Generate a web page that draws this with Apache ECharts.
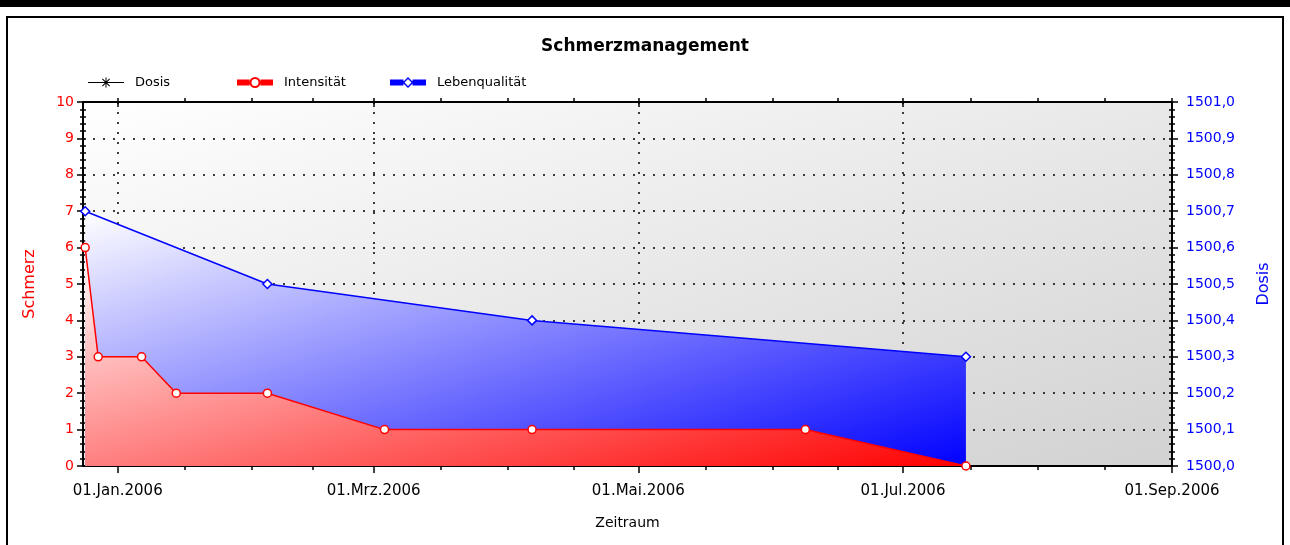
<!DOCTYPE html>
<html>
<head>
<meta charset="utf-8">
<script src="https://cdn.jsdelivr.net/npm/echarts@6/dist/echarts.min.js"></script>
<style>
html,body{margin:0;padding:0;background:#fff;}
#chart{width:1290px;height:545px;}
</style>
</head>
<body>
<div id="chart"></div>
<script>
// ---- data ----
const intensitaetDates = ['2005-12-24 12:00','2005-12-27 12:00','2006-01-06 12:00','2006-01-14 12:00','2006-02-04 12:00','2006-03-03 12:00','2006-04-06 12:00','2006-06-08 12:00','2006-07-15 12:00'];
const intensitaet = [6, 3, 3, 2, 2, 1, 1, 1, 0];
const lebenDates = ['2005-12-24 12:00','2006-02-04 12:00','2006-04-06 12:00','2006-07-15 12:00'];
const lebenqualitaet = [7, 5, 4, 3];
const dosisDates = [];
const dosis = [];
const xMinDate = '2005-12-24 00:00';
const xMaxDate = '2006-09-01 00:00';
const majorTickDates = ['2006-01-01 00:00','2006-03-01 00:00','2006-05-01 00:00','2006-07-01 00:00','2006-09-01 00:00'];
const majorTickLabels = ['01.Jan.2006','01.Mrz.2006','01.Mai.2006','01.Jul.2006','01.Sep.2006'];
const minorTickDates = ['2006-01-16 12:00','2006-02-01 00:00','2006-02-15 00:00','2006-03-16 12:00','2006-04-01 00:00','2006-04-16 00:00','2006-05-16 12:00','2006-06-01 00:00','2006-06-16 00:00','2006-07-16 12:00','2006-08-01 00:00','2006-08-16 12:00'];

function toTime(s){
  const parts = s.split(' ');
  const d = parts[0].split('-').map(Number);
  const t = (parts[1] || '00:00').split(':').map(Number);
  return new Date(d[0], d[1]-1, d[2], t[0], t[1]).getTime();
}
const xMin = toTime(xMinDate), xMax = toTime(xMaxDate);
const majorT = majorTickDates.map(toTime);
const minorT = minorTickDates.map(toTime);
const allT = majorT.concat(minorT);

const FONT = 'DejaVu Sans';
const dotted = {color:'#000', type:[2,8], width:1.5};

// diagonal gradient whose iso-lines run along the box's anti-diagonal (w,h = approx box size in px)
function diagGradient(w, h, c0, c1){
  const s = w*w + h*h;
  return {type:'linear', x:0, y:0, x2:2*h*h/s, y2:2*w*w/s,
          colorStops:[{offset:0,color:c0},{offset:1,color:c1}]};
}

function xAxisBase(extra){
  return Object.assign({
    type:'value', gridIndex:0, min:xMin, max:xMax, scale:true,
    axisLine:{show:false},
    axisTick:{show:false},
    axisLabel:{show:false},
    splitLine:{show:false}
  }, extra);
}

const legendText = {fontFamily:FONT, fontSize:13, color:'#000', padding:[0,0,0,6]};

const option = {
  animation:false,
  backgroundColor:'#fff',
  textStyle:{fontFamily:FONT},
  title:{
    text:'Schmerzmanagement', left:'center', top:33,
    textStyle:{fontFamily:FONT, fontSize:17, fontWeight:'bold', color:'#000'}
  },
  legend:[
    {left:88, top:76, padding:0, itemWidth:36, itemHeight:12, textStyle:legendText,
     data:[{name:'Dosis', icon:'path://M0,5.5H36V6.5H0Z M17.5,1H18.5V11H17.5Z M14.7,2L22,9.3L21.3,10L14,2.7Z M21.3,2L22,2.7L14.7,10L14,9.3Z', itemStyle:{color:'#000', borderWidth:0}}]},
    {left:237, top:76, padding:0, itemWidth:36, itemHeight:11, textStyle:legendText,
     data:[{name:'Intensität', icon:'path://M0,3H12.6V9H0Z M23.4,3H36V9H23.4Z M12.5,6A5.5,5.5 0 1,1 23.5,6A5.5,5.5 0 1,1 12.5,6Z M14.5,6A3.5,3.5 0 1,0 21.5,6A3.5,3.5 0 1,0 14.5,6Z', itemStyle:{color:'#ff0000', borderWidth:0}}]},
    {left:390, top:76, padding:0, itemWidth:36, itemHeight:11, textStyle:legendText,
     data:[{name:'Lebenqualität', icon:'path://M0,3H13.5V9H0Z M22.5,3H36V9H22.5Z M18,0.5L23.5,6L18,11.5L12.5,6Z M18,2.5L14.5,6L18,9.5L21.5,6Z', itemStyle:{color:'#0000ff', borderWidth:0}}]}
  ],
  graphic:[
    {type:'rect', shape:{x:0,y:0,width:1290,height:7}, style:{fill:'#000'}, silent:true},
    {type:'rect', shape:{x:7,y:17,width:1276,height:560}, style:{fill:null, stroke:'#000', lineWidth:2}, silent:true}
  ],
  grid:{
    left:83, right:118, top:102, bottom:79, show:true, borderWidth:0,
    backgroundColor:diagGradient(1089, 364, '#ffffff', '#d2d2d2')
  },
  xAxis:[
    xAxisBase({
      position:'bottom',
      axisLine:{show:true, lineStyle:{color:'#000', width:2}},
      axisTick:{show:true, customValues:majorT, length:7, lineStyle:{color:'#000', width:1.5}},
      axisLabel:{show:true, customValues:majorT, margin:18, fontFamily:FONT, fontSize:15, color:'#000',
        formatter:function(v){ const i = majorT.indexOf(v); return i >= 0 ? majorTickLabels[i] : ''; }},
      splitLine:{show:true, lineStyle:dotted},
      name:'Zeitraum', nameLocation:'middle', nameGap:50,
      nameTextStyle:{fontFamily:FONT, fontSize:14, color:'#000'}
    }),
    xAxisBase({position:'bottom', axisTick:{show:true, customValues:minorT, length:4, lineStyle:{color:'#000', width:1.5}}}),
    xAxisBase({position:'top', axisLine:{show:true, lineStyle:{color:'#000', width:2}},
      axisTick:{show:true, customValues:allT, length:4, lineStyle:{color:'#000', width:1.5}}}),
    xAxisBase({position:'top', axisTick:{show:true, inside:true, customValues:majorT, length:5, lineStyle:{color:'#000', width:1.5}}})
  ],
  yAxis:[
    {type:'value', position:'left', min:0, max:10, interval:1,
     axisLine:{show:true, lineStyle:{color:'#000', width:2}},
     axisTick:{show:true, length:6, lineStyle:{color:'#000', width:1.5}},
     minorTick:{show:true, splitNumber:5, length:3, lineStyle:{color:'#000', width:1.5}},
     axisLabel:{margin:9, fontFamily:FONT, fontSize:14, color:'#ff0000'},
     splitLine:{show:true, lineStyle:dotted},
     name:'Schmerz', nameLocation:'middle', nameGap:45, nameRotate:90,
     nameTextStyle:{fontFamily:FONT, fontSize:16, color:'#ff0000'}},
    {type:'value', position:'right', min:1500, max:1501, interval:0.1,
     axisLine:{show:true, lineStyle:{color:'#000', width:2}},
     axisTick:{show:true, length:6, lineStyle:{color:'#000', width:1.5}},
     minorTick:{show:true, splitNumber:5, length:3, lineStyle:{color:'#000', width:1.5}},
     axisLabel:{margin:14, fontFamily:FONT, fontSize:14, color:'#0000ff',
       formatter:function(v){ return v.toFixed(1).replace('.', ','); }},
     splitLine:{show:false},
     name:'Dosis', nameLocation:'middle', nameGap:84, nameRotate:90,
     nameTextStyle:{fontFamily:FONT, fontSize:16, color:'#0000ff'}},
    {type:'value', position:'left', min:0, max:10, interval:1,
     axisLine:{show:false}, axisLabel:{show:false}, splitLine:{show:false},
     axisTick:{show:true, inside:true, length:3, lineStyle:{color:'#000', width:1.5}},
     minorTick:{show:true, splitNumber:5, length:3, lineStyle:{color:'#000', width:1.5}}},
    {type:'value', position:'right', min:1500, max:1501, interval:0.1,
     axisLine:{show:false}, axisLabel:{show:false}, splitLine:{show:false},
     axisTick:{show:true, inside:true, length:3, lineStyle:{color:'#000', width:1.5}},
     minorTick:{show:true, splitNumber:5, length:3, lineStyle:{color:'#000', width:1.5}}}
  ],
  series:[
    {name:'Dosis', type:'line', xAxisIndex:0, yAxisIndex:1,
     data:dosisDates.map((d,i)=>[toTime(d), dosis[i]]),
     lineStyle:{color:'#000', width:1}, itemStyle:{color:'#000'}},
    {name:'Lebenqualität', type:'line', xAxisIndex:0, yAxisIndex:0, z:2,
     data:lebenDates.map((d,i)=>[toTime(d), lebenqualitaet[i]]),
     symbol:'diamond', symbolSize:9, showSymbol:true,
     lineStyle:{color:'#0000ff', width:1.5},
     itemStyle:{color:'#ffffff', borderColor:'#0000ff', borderWidth:1.5},
     areaStyle:{opacity:1, color:diagGradient(882, 254, '#ffffff', '#0000ff')}},
    {name:'Intensität', type:'line', xAxisIndex:0, yAxisIndex:0, z:3,
     data:intensitaetDates.map((d,i)=>[toTime(d), intensitaet[i]]),
     symbol:'circle', symbolSize:8, showSymbol:true,
     lineStyle:{color:'#ff0000', width:1.5},
     itemStyle:{color:'#ffffff', borderColor:'#ff0000', borderWidth:1.5},
     areaStyle:{opacity:1, color:diagGradient(882, 218, '#ffffff', '#ff0000')}}
  ]
};
const chart = echarts.init(document.getElementById('chart'), null, {renderer:'canvas'});
chart.setOption(option);
</script>
</body>
</html>
